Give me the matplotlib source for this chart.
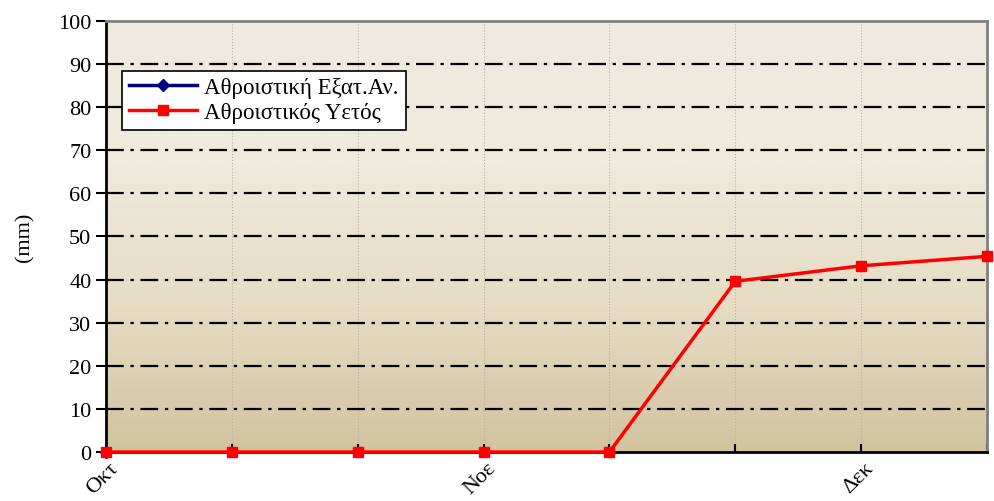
import numpy as np
import matplotlib
matplotlib.use('Agg')
import matplotlib.pyplot as plt
from matplotlib.colors import LinearSegmentedColormap

plt.rcParams['font.family'] = ['Liberation Serif', 'DejaVu Serif']

# data
positions = [0, 1, 2, 3, 4, 5, 6, 7]
rain = [0, 0, 0, 0, 0, 39.6, 43.2, 45.4]
evap_pos = [0]
evap = [0]
tick_pos = [0, 3, 6]
tick_labels = ['Οκτ', 'Νοε', 'Δεκ']

fig = plt.figure(figsize=(9.95, 5.02), dpi=100)
ax = fig.add_axes([0.1065, 0.0976, 0.8855, 0.8586])

# gradient background
cmap = LinearSegmentedColormap.from_list('bg', ['#d2c3a0', '#e6dcc3', '#eeeadc', '#eeebe0'])
grad = np.linspace(0, 1, 256).reshape(-1, 1)
ax.imshow(grad, aspect='auto', cmap=cmap, origin='lower',
          extent=[0, 7, 0, 100], zorder=0)

ax.set_xlim(0, 7)
ax.set_ylim(0, 100)

# grids
for x in positions[1:]:
    ax.axvline(x, color='#b8b0a0', lw=0.8, ls=':', zorder=1)
for y in range(10, 100, 10):
    ax.axhline(y, color='black', lw=1.6, ls=(0, (8, 3, 1.5, 3)), zorder=1)

ax.plot(evap_pos, evap, color='#000080', lw=2.5, marker='D', ms=6,
        label='Αθροιστική Εξατ.Αν.', zorder=3, clip_on=False)
ax.plot(positions, rain, color='#ff0000', lw=2.5, marker='s', ms=7,
        label='Αθροιστικός Υετός', zorder=4, clip_on=False)

ax.set_yticks(range(0, 101, 10))
ax.tick_params(axis='y', direction='out', length=7, width=1.5, labelsize=16)
ax.set_xticks(positions)
ax.set_xticklabels(['' for _ in positions])
ax.tick_params(axis='x', direction='in', length=6, width=1.5)
for p, lab in zip(tick_pos, tick_labels):
    ax.text(p + 0.02, -1.5, lab, rotation=45, ha='right', va='top',
            fontsize=16, rotation_mode='anchor', transform=ax.transData)

ax.set_ylabel('(mm)', fontsize=16, labelpad=17)

for s in ['left', 'bottom']:
    ax.spines[s].set_linewidth(2)
    ax.spines[s].set_color('black')
for s in ['top', 'right']:
    ax.spines[s].set_linewidth(2)
    ax.spines[s].set_color('#808080')

leg = ax.legend(loc='upper left', bbox_to_anchor=(0.018, 0.885), fontsize=16.5,
                frameon=True, fancybox=False, framealpha=1, edgecolor='black',
                handlelength=3, borderpad=0.3, labelspacing=0.15, handletextpad=0.3,
                borderaxespad=0)
leg.get_frame().set_linewidth(1.2)

fig.savefig('out.png', dpi=100)
